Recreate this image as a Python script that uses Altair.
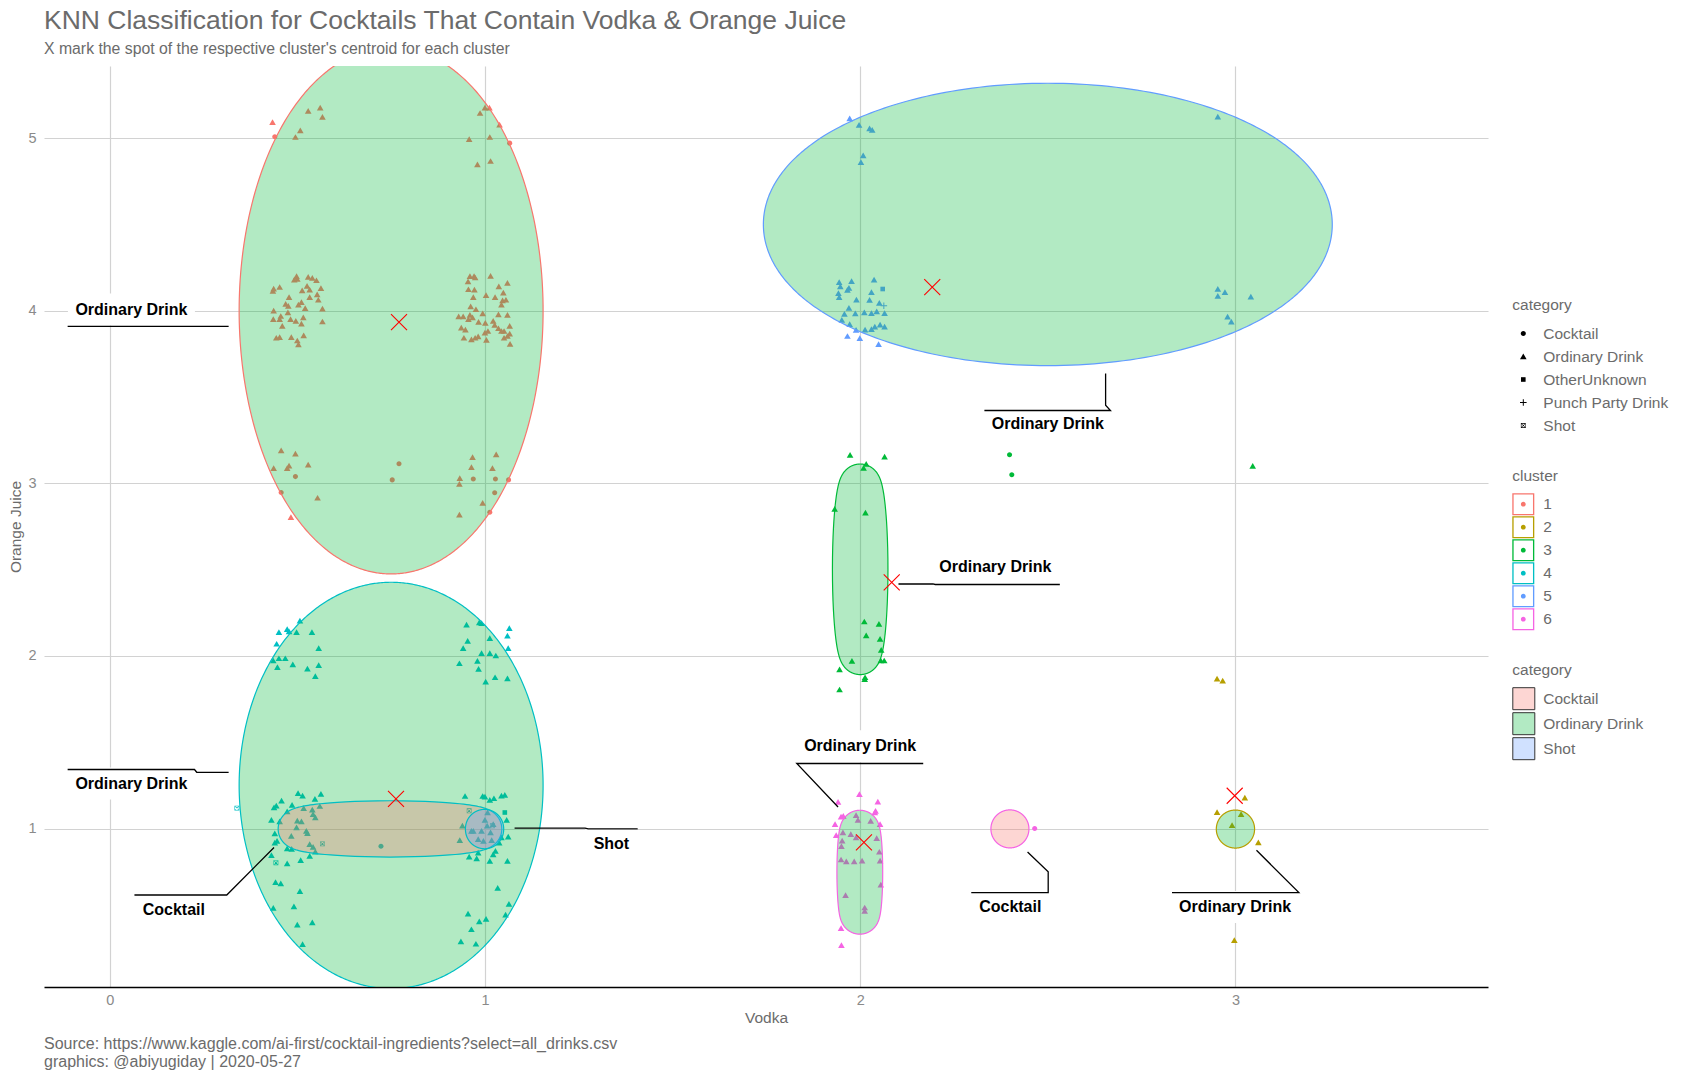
import altair as alt
import pandas as pd
import numpy as np

FONT = "Liberation Sans"
TEXT_GRAY = "#6B6B6B"
TICK_GRAY = "#8A8A8A"

TITLE = "KNN Classification for Cocktails That Contain Vodka & Orange Juice"
SUBTITLE = "X mark the spot of the respective cluster's centroid for each cluster"
CAPTION = ("Source: https://www.kaggle.com/ai-first/cocktail-ingredients?select=all_drinks.csv\n"
           "graphics: @abiyugiday | 2020-05-27")

X_DOMAIN = [-0.175, 3.673]
Y_DOMAIN = [0.082, 5.418]
W, H = 1444, 921
PXX = W / (X_DOMAIN[1] - X_DOMAIN[0])
PXY = H / (Y_DOMAIN[1] - Y_DOMAIN[0])

CLUSTERS = ["1", "2", "3", "4", "5", "6"]
CLUSTER_COLORS = ["#F8766D", "#B79F00", "#00BA38", "#00BFC4", "#619CFF", "#F564E3"]
CATEGORIES = ["Cocktail", "Ordinary Drink", "OtherUnknown", "Punch Party Drink", "Shot"]
FILL_CATEGORIES = ["Cocktail", "Ordinary Drink", "Shot"]
FILL_COLORS = ["#F8766D", "#00BA38", "#619CFF"]
FILL_ALPHA = 0.3
CODE = {"C": "Cocktail", "O": "Ordinary Drink", "U": "OtherUnknown",
        "P": "Punch Party Drink", "S": "Shot"}

# ---- jittered points: (vodka, orange juice, category code) ----
cluster1_points = [
    (0.434, 5.092, "O"), (0.440, 5.008, "C"), (0.529, 5.157, "O"), (0.561, 5.176, "O"),
    (0.567, 5.122, "O"), (0.508, 5.045, "O"), (0.495, 5.006, "O"), (1.000, 5.176, "O"),
    (1.012, 5.176, "O"), (0.987, 5.145, "O"), (1.039, 5.078, "O"), (1.066, 4.971, "C"),
    (0.958, 4.994, "O"), (1.013, 5.006, "O"), (0.980, 4.847, "O"), (1.015, 4.867, "O"),
    (0.435, 4.114, "O"), (0.437, 4.127, "O"), (0.453, 4.137, "O"), (0.478, 4.078, "O"),
    (0.492, 4.180, "O"), (0.498, 4.200, "O"), (0.500, 4.184, "O"), (0.529, 4.196, "O"),
    (0.540, 4.190, "O"), (0.551, 4.176, "O"), (0.526, 4.143, "O"), (0.513, 4.118, "O"),
    (0.533, 4.122, "O"), (0.563, 4.131, "O"), (0.553, 4.094, "O"), (0.556, 4.063, "O"),
    (0.533, 4.078, "O"), (0.511, 4.049, "O"), (0.503, 4.035, "O"), (0.521, 4.014, "O"),
    (0.567, 4.012, "O"), (0.469, 4.039, "O"), (0.475, 3.990, "O"), (0.456, 3.969, "O"),
    (0.437, 4.000, "O"), (0.436, 3.951, "O"), (0.453, 3.951, "O"), (0.482, 3.951, "O"),
    (0.496, 3.941, "O"), (0.511, 3.925, "O"), (0.516, 3.961, "O"), (0.460, 3.912, "O"),
    (0.567, 3.937, "O"), (0.444, 3.843, "O"), (0.453, 3.847, "O"), (0.484, 3.847, "O"),
    (0.500, 3.827, "O"), (0.517, 3.857, "O"), (0.503, 3.804, "O"), (0.476, 4.027, "O"),
    (0.960, 4.200, "O"), (0.971, 4.200, "O"), (0.974, 4.192, "O"), (1.015, 4.202, "O"),
    (0.955, 4.169, "O"), (0.972, 4.122, "O"), (0.956, 4.124, "O"), (1.003, 4.090, "O"),
    (1.027, 4.078, "O"), (1.037, 4.141, "O"), (1.060, 4.161, "O"), (1.049, 4.104, "O"),
    (1.047, 4.059, "O"), (1.056, 4.063, "O"), (1.044, 4.035, "O"), (0.969, 4.078, "O"),
    (0.962, 4.025, "O"), (0.976, 4.008, "O"), (0.994, 3.984, "O"), (0.930, 3.967, "O"),
    (0.942, 3.967, "O"), (0.960, 3.975, "O"), (0.967, 3.961, "O"), (0.956, 3.951, "O"),
    (0.983, 3.935, "O"), (1.001, 3.929, "O"), (1.036, 3.978, "O"), (1.060, 3.976, "O"),
    (1.026, 3.918, "O"), (1.036, 3.898, "O"), (1.066, 3.912, "O"), (1.051, 3.882, "O"),
    (1.066, 3.867, "O"), (1.044, 3.882, "O"), (0.937, 3.902, "O"), (0.948, 3.890, "O"),
    (1.008, 3.882, "O"), (1.000, 3.873, "O"), (0.944, 3.843, "O"), (0.964, 3.833, "O"),
    (0.974, 3.843, "O"), (1.004, 3.831, "O"), (1.051, 3.843, "O"), (1.067, 3.808, "O"),
    (1.060, 3.853, "O"), (1.022, 3.941, "O"), (0.982, 3.851, "O"),
    (0.457, 3.190, "O"), (0.495, 3.171, "O"), (0.437, 3.088, "O"), (0.473, 3.088, "O"),
    (0.478, 3.102, "O"), (0.529, 3.108, "O"), (0.495, 3.039, "C"), (0.457, 2.947, "C"),
    (0.554, 2.916, "O"), (0.483, 2.804, "O"), (0.771, 3.114, "C"), (0.753, 3.020, "C"),
    (0.967, 3.151, "O"), (1.030, 3.167, "O"), (0.964, 3.094, "O"), (1.020, 3.088, "O"),
    (0.933, 3.029, "O"), (0.969, 3.025, "C"), (1.028, 3.025, "C"), (1.063, 3.020, "C"),
    (0.932, 2.996, "O"), (1.026, 2.945, "C"), (0.994, 2.886, "O"), (1.013, 2.833, "C"),
    (0.932, 2.818, "O"),
]

cluster2_points = [
    (3.025, 1.178, "O"), (2.951, 1.095, "O"), (3.015, 1.083, "O"), (2.991, 1.019, "O"),
    (3.061, 0.919, "O"), (2.997, 0.353, "O"), (2.951, 1.868, "O"), (2.966, 1.857, "O"),
]

cluster3_points = [
    (1.973, 3.164, "O"), (2.065, 3.154, "O"), (2.016, 3.112, "O"), (2.009, 3.089, "O"),
    (1.932, 2.851, "O"), (2.014, 2.830, "O"), (2.011, 2.199, "O"), (2.050, 2.185, "O"),
    (2.016, 2.118, "O"), (2.053, 2.098, "O"), (2.056, 2.035, "O"), (1.978, 1.971, "O"),
    (2.055, 1.973, "O"), (2.064, 1.973, "O"), (1.945, 1.921, "O"), (2.013, 1.876, "O"),
    (2.012, 1.865, "O"), (1.945, 1.805, "O"), (2.398, 3.166, "C"), (2.404, 3.050, "C"),
    (3.046, 3.100, "O"),
]

cluster4_points = [
    (0.451, 2.138, "O"), (0.473, 2.155, "O"), (0.478, 2.142, "O"), (0.498, 2.138, "O"),
    (0.507, 2.204, "O"), (0.539, 2.138, "O"), (0.445, 2.070, "O"), (0.557, 2.045, "O"),
    (0.436, 1.973, "O"), (0.451, 1.986, "O"), (0.468, 1.986, "O"), (0.488, 1.951, "O"),
    (0.447, 1.934, "O"), (0.527, 1.926, "O"), (0.557, 1.946, "O"), (0.548, 1.883, "O"),
    (0.951, 2.181, "O"), (0.985, 2.194, "O"), (0.991, 2.190, "O"), (1.065, 2.161, "O"),
    (1.060, 2.117, "O"), (0.954, 2.087, "O"), (1.013, 2.103, "O"), (0.942, 2.045, "O"),
    (1.062, 2.045, "O"), (0.932, 1.957, "O"), (0.980, 1.971, "O"), (0.991, 2.016, "O"),
    (1.013, 2.016, "O"), (1.029, 2.002, "O"), (0.983, 1.924, "O"), (1.002, 1.850, "O"),
    (1.027, 1.876, "O"), (1.060, 1.870, "O"),
    (0.444, 1.132, "O"), (0.458, 1.161, "O"), (0.438, 1.122, "O"), (0.473, 1.099, "O"),
    (0.486, 1.136, "O"), (0.502, 1.204, "O"), (0.514, 1.190, "O"), (0.547, 1.171, "O"),
    (0.563, 1.200, "O"), (0.540, 1.109, "O"), (0.542, 1.083, "O"), (0.560, 1.130, "O"),
    (0.548, 1.064, "O"), (0.431, 1.049, "O"), (0.453, 1.041, "O"), (0.500, 1.045, "O"),
    (0.511, 1.041, "O"), (0.498, 1.006, "O"), (0.524, 0.986, "O"), (0.527, 0.973, "O"),
    (0.440, 0.971, "O"), (0.484, 0.957, "O"), (0.446, 0.928, "O"), (0.440, 0.918, "O"),
    (0.473, 0.885, "O"), (0.485, 0.882, "O"), (0.533, 0.909, "O"), (0.542, 0.893, "O"),
    (0.548, 0.866, "O"), (0.431, 0.845, "O"), (0.473, 0.798, "O"), (0.509, 0.817, "O"),
    (0.533, 0.841, "O"), (0.442, 0.689, "O"), (0.456, 0.682, "O"), (0.507, 0.637, "O"),
    (0.436, 0.540, "O"), (0.491, 0.548, "O"), (0.500, 0.443, "O"), (0.540, 0.456, "O"),
    (0.514, 0.330, "O"), (0.517, 1.118, "O"),
    (0.339, 1.118, "S"), (0.443, 0.802, "S"), (0.567, 0.911, "S"), (0.723, 0.897, "C"),
    (0.947, 1.188, "O"), (0.994, 1.188, "O"), (1.000, 1.184, "O"), (1.013, 1.165, "O"),
    (1.024, 1.175, "O"), (1.044, 1.190, "O"), (1.053, 1.194, "O"), (1.053, 1.093, "U"),
    (1.058, 1.049, "O"), (1.062, 0.953, "O"), (1.044, 0.948, "O"), (1.028, 0.870, "O"),
    (1.022, 0.850, "O"), (1.013, 0.812, "O"), (1.060, 0.812, "O"), (0.958, 0.837, "O"),
    (0.978, 0.827, "O"), (0.996, 0.928, "O"), (1.018, 0.932, "O"), (0.982, 0.938, "O"),
    (1.000, 1.049, "O"), (1.006, 1.016, "O"), (0.969, 0.986, "O"), (0.933, 0.932, "O"),
    (0.940, 1.016, "O"), (0.958, 1.103, "S"), (0.964, 0.986, "O"), (0.991, 0.986, "O"),
    (1.015, 0.977, "O"), (0.982, 0.860, "O"), (1.034, 0.656, "O"), (1.064, 0.563, "O"),
    (1.055, 0.501, "O"), (0.955, 0.507, "O"), (0.985, 0.462, "O"), (1.003, 0.476, "O"),
    (0.964, 0.416, "O"), (0.936, 0.346, "O"), (0.976, 0.332, "O"), (1.007, 1.093, "O"),
    (1.022, 1.025, "O"), (1.038, 0.918, "O"), (1.020, 1.016, "S"),
]

cluster5_points = [
    (1.972, 5.114, "O"), (1.997, 5.076, "O"), (2.025, 5.056, "O"), (2.032, 5.047, "O"),
    (2.008, 4.899, "O"), (2.002, 4.860, "O"), (2.953, 5.124, "O"),
    (1.944, 4.165, "O"), (1.947, 4.140, "O"), (1.942, 4.101, "O"), (1.944, 4.078, "O"),
    (1.977, 4.171, "O"), (1.970, 4.132, "O"), (1.966, 4.120, "O"), (2.037, 4.180, "O"),
    (2.030, 4.107, "O"), (2.025, 4.062, "O"), (1.990, 4.064, "O"), (2.051, 4.045, "O"),
    (2.065, 3.986, "O"), (2.044, 3.996, "O"), (2.030, 3.986, "O"), (2.011, 3.990, "O"),
    (1.987, 3.984, "O"), (1.958, 3.981, "O"), (1.970, 4.016, "O"), (1.951, 3.946, "O"),
    (1.972, 3.922, "O"), (1.989, 3.888, "O"), (2.013, 3.890, "O"), (2.030, 3.893, "O"),
    (2.039, 3.907, "O"), (2.053, 3.919, "O"), (2.065, 3.907, "O"), (1.966, 3.853, "O"),
    (1.999, 3.841, "O"), (2.049, 3.806, "O"), (2.060, 4.126, "U"), (2.063, 4.029, "P"),
    (2.953, 4.126, "O"), (2.972, 4.107, "O"), (2.953, 4.085, "O"), (3.041, 4.081, "O"),
    (2.979, 3.965, "O"), (2.989, 3.936, "O"),
]

cluster6_points = [
    (1.998, 1.199, "O"), (1.941, 1.154, "O"), (2.047, 1.156, "O"), (2.041, 1.102, "O"),
    (2.039, 1.093, "O"), (1.949, 1.069, "O"), (1.955, 1.073, "O"), (1.989, 1.077, "O"),
    (1.933, 1.025, "O"), (2.053, 1.025, "O"), (1.994, 1.050, "O"), (1.936, 0.961, "O"),
    (1.954, 0.977, "O"), (1.975, 0.967, "O"), (1.989, 0.948, "O"), (2.044, 0.944, "O"),
    (1.952, 0.929, "O"), (1.950, 0.898, "O"), (1.949, 0.820, "O"), (1.963, 0.809, "O"),
    (1.984, 0.809, "O"), (2.005, 0.813, "O"), (2.028, 1.044, "O"), (2.051, 0.865, "O"),
    (2.053, 0.813, "O"), (2.055, 0.674, "O"), (1.961, 0.614, "O"), (2.012, 0.542, "O"),
    (2.012, 0.523, "O"), (1.949, 0.423, "O"), (1.950, 0.324, "O"), (2.465, 1.000, "C"),
]

# ---- cluster marks (ellipses): outer extents ----
ell_cluster = ["1", "4", "4", "4", "5", "3", "6", "6", "2"]
ell_category = ["Ordinary Drink", "Ordinary Drink", "Cocktail", "Shot", "Ordinary Drink",
                "Ordinary Drink", "Ordinary Drink", "Cocktail", "Ordinary Drink"]
ell_cx = [0.750, 0.750, 0.747, 0.999, 2.500, 2.000, 1.999, 2.399, 3.000]
ell_cy = [4.000, 1.250, 0.998, 0.997, 4.500, 2.502, 0.747, 0.998, 0.997]
ell_rx = [0.405, 0.405, 0.298, 0.051, 0.758, 0.074, 0.061, 0.0505, 0.051]
ell_ry = [1.525, 1.177, 0.163, 0.114, 0.818, 0.610, 0.359, 0.108, 0.109]
EXPAND_PX = 19

# ---- centroids ----
cen_cluster = ["1", "2", "3", "4", "5", "6"]
cen_x = [0.771, 2.998, 2.084, 0.763, 2.192, 2.010]
cen_y = [3.934, 1.190, 2.426, 1.172, 4.137, 0.920]

# ---- annotations ----
ann_label = ["Ordinary Drink", "Ordinary Drink", "Cocktail", "Shot", "Ordinary Drink",
             "Ordinary Drink", "Ordinary Drink", "Cocktail", "Ordinary Drink"]
ann_x = [0.058, 0.058, 0.171, 1.337, 2.500, 2.360, 2.000, 2.400, 2.999]
ann_y = [4.007, 1.261, 0.531, 0.913, 3.343, 2.516, 1.477, 0.546, 0.546]
ann_path = [
    [(-0.112, 3.910), (0.317, 3.910)],
    [(-0.112, 1.342), (0.226, 1.342), (0.232, 1.326), (0.317, 1.326)],
    [(0.066, 0.615), (0.312, 0.615), (0.438, 0.890)],
    [(1.079, 1.003), (1.267, 1.003), (1.275, 0.998), (1.407, 0.998)],
    [(2.654, 3.636), (2.654, 3.453), (2.667, 3.422), (2.331, 3.422)],
    [(2.102, 2.417), (2.194, 2.417), (2.200, 2.414), (2.532, 2.414)],
    [(1.941, 1.125), (1.831, 1.377), (2.168, 1.377)],
    [(2.446, 0.864), (2.501, 0.749), (2.501, 0.629), (2.296, 0.629)],
    [(3.056, 0.874), (3.169, 0.629), (2.831, 0.629)],
]
LABEL_W = {"Ordinary Drink": 111, "Cocktail": 62, "Shot": 36}

# ---------------- build tables ----------------
rows = []
for cl, pts in [("1", cluster1_points), ("2", cluster2_points), ("3", cluster3_points),
                ("4", cluster4_points), ("5", cluster5_points), ("6", cluster6_points)]:
    for x, y, c in pts:
        rows.append({"x": x, "y": y, "category": CODE[c], "cluster": cl})
points_df = pd.DataFrame(rows)

erows = []
for i in range(len(ell_cx)):
    a = max(ell_rx[i] * PXX - EXPAND_PX, 0.01)
    b = max(ell_ry[i] * PXY - EXPAND_PX, 0.01)
    phi = np.linspace(0, np.pi, 241)
    s = np.sqrt((a * np.cos(phi)) ** 2 + (b * np.sin(phi)) ** 2)
    px = a * a * np.cos(phi) / s + EXPAND_PX * np.cos(phi)
    py = b * b * np.sin(phi) / s + EXPAND_PX * np.sin(phi)
    for u, v in zip(px, py):
        erows.append({"x": ell_cx[i] + u / PXX, "ytop": ell_cy[i] + v / PXY,
                      "ybot": ell_cy[i] - v / PXY, "eid": i,
                      "cluster": ell_cluster[i], "category": ell_category[i]})
ell_df = pd.DataFrame(erows)

cen_df = pd.DataFrame({"x": cen_x, "y": cen_y, "cluster": cen_cluster})

lrows = []
for i, path in enumerate(ann_path):
    for j, (x, y) in enumerate(path):
        lrows.append({"x": x, "y": y, "aid": i, "seq": j})
line_df = pd.DataFrame(lrows)

lab_df = pd.DataFrame({"x": ann_x, "y": ann_y, "label": ann_label})
hw = lab_df["label"].map(LABEL_W) / 2 + 8
lab_df["x0"] = lab_df["x"] - hw / PXX
lab_df["x1"] = lab_df["x"] + hw / PXX
lab_df["y0"] = lab_df["y"] - 16 / PXY
lab_df["y1"] = lab_df["y"] + 16 / PXY


def blend_on_white(hex_color, alpha):
    r, g, b = (int(hex_color[k:k + 2], 16) for k in (1, 3, 5))
    mix = [round(255 * (1 - alpha) + c * alpha) for c in (r, g, b)]
    return "#{:02X}{:02X}{:02X}".format(*mix)


FILL_KEY_COLORS = [blend_on_white(c, FILL_ALPHA) for c in FILL_COLORS]

# ---------------- scales / axes ----------------
XS = alt.Scale(domain=X_DOMAIN, nice=False, zero=False)
YS = alt.Scale(domain=Y_DOMAIN, nice=False, zero=False)
XA = alt.Axis(values=[0, 1, 2, 3], format="d", title="Vodka", grid=True,
              gridColor="#D2D2D2", gridWidth=1.2, domain=True, domainColor="#000000",
              domainWidth=1.5, ticks=False, tickSize=0, labelPadding=6,
              labelFont=FONT, labelFontSize=14.5, labelColor=TICK_GRAY,
              titleFont=FONT, titleFontSize=15.5, titleFontWeight="normal",
              titleColor=TEXT_GRAY, titlePadding=4)
YA = alt.Axis(values=[1, 2, 3, 4, 5], format="d", title="Orange Juice", grid=True,
              gridColor="#D2D2D2", gridWidth=1.2, domain=False, ticks=False, tickSize=0,
              labelPadding=8, labelFont=FONT, labelFontSize=14.5, labelColor=TICK_GRAY,
              titleFont=FONT, titleFontSize=15.5, titleFontWeight="normal",
              titleColor=TEXT_GRAY, titlePadding=4.5)


def X(field):
    return alt.X(field, type="quantitative", scale=XS, axis=XA)


def Y(field):
    return alt.Y(field, type="quantitative", scale=YS, axis=YA)


SHAPE_PATHS = [
    "M-0.23,0A0.23,0.23 0 1,0 0.23,0A0.23,0.23 0 1,0 -0.23,0Z",
    "M0,-0.27L0.3,0.25L-0.3,0.25Z",
    "M-0.21,-0.21H0.21V0.21H-0.21Z",
    "M-0.3,-0.045H-0.045V-0.3H0.045V-0.045H0.3V0.045H0.045V0.3H-0.045V0.045H-0.3Z",
    "M-0.22,-0.22H0.22V0.22H-0.22Z M-0.17,-0.17V0.17H0.17V-0.17Z "
    "M-0.17,-0.13L0.13,0.17L0.17,0.13L-0.13,-0.17Z M0.13,-0.17L0.17,-0.13L-0.13,0.17L-0.17,0.13Z",
]
RING_DOT = ("M-1,-1H1V1H-1Z M-0.88,-0.88V0.88H0.88V-0.88Z "
            "M-0.22,0A0.22,0.22 0 1,0 0.22,0A0.22,0.22 0 1,0 -0.22,0Z")
X_PATH = "M-1,-1L1,1M-1,1L1,-1"

LEG_X = 1468.3


def legend(**kw):
    base = dict(orient="none", direction="vertical", padding=0, titleFont=FONT,
                titleFontSize=15.5, titleFontWeight="normal", titleColor=TEXT_GRAY,
                labelFont=FONT, labelFontSize=15.5, labelColor=TEXT_GRAY,
                titlePadding=9, rowPadding=1, labelOffset=9, symbolSize=484,
                legendX=LEG_X)
    base.update(kw)
    return alt.Legend(**base)


points = alt.Chart(points_df).mark_point(filled=True, size=484, opacity=1, strokeWidth=0).encode(
    x=X("x"), y=Y("y"),
    color=alt.Color("cluster:N", scale=alt.Scale(domain=CLUSTERS, range=CLUSTER_COLORS),
                    legend=legend(title="cluster", legendY=402.7, symbolType=RING_DOT,
                                  symbolStrokeWidth=0)),
    shape=alt.Shape("category:N", scale=alt.Scale(domain=CATEGORIES, range=SHAPE_PATHS),
                    legend=legend(title="category", legendY=232, symbolFillColor="black",
                                  symbolStrokeWidth=0, rowPadding=3)),
)

ellipses = alt.Chart(ell_df).mark_area(fillOpacity=FILL_ALPHA, strokeWidth=1.2, clip=True).encode(
    x=X("x"), y=Y("ytop"), y2="ybot:Q",
    fill=alt.Fill("category:N", scale=alt.Scale(domain=FILL_CATEGORIES, range=FILL_COLORS),
                  legend=None),
    stroke=alt.Stroke("cluster:N", scale=alt.Scale(domain=CLUSTERS, range=CLUSTER_COLORS),
                      legend=None),
    detail="eid:N",
)

# legend key for the ellipse fills (no marks: empty table)
fill_key = alt.Chart(pd.DataFrame({"x": pd.Series([], dtype=float),
                                   "y": pd.Series([], dtype=float),
                                   "category": pd.Series([], dtype=str)})).mark_point(
    shape="square", filled=True, size=484, opacity=1).encode(
    x=X("x"), y=Y("y"),
    fill=alt.Fill("category:N", scale=alt.Scale(domain=FILL_CATEGORIES, range=FILL_KEY_COLORS),
                  legend=legend(title="category", legendY=596.7, symbolType="square",
                                symbolStrokeColor="#333333", symbolStrokeWidth=1,
                                rowPadding=-3, labelOffset=8)),
)

boxes = alt.Chart(lab_df).mark_rect(color="white").encode(
    x=X("x0"), x2="x1:Q", y=Y("y0"), y2="y1:Q")

lines = alt.Chart(line_df).mark_line(color="black", strokeWidth=1.3).encode(
    x=X("x"), y=Y("y"), detail="aid:N", order="seq:Q")

labels = alt.Chart(lab_df).mark_text(font=FONT, fontWeight="bold", fontSize=16,
                                     color="black", baseline="middle", align="center").encode(
    x=X("x"), y=Y("y"), text="label:N")

centroids = alt.Chart(cen_df).mark_point(shape=X_PATH, size=256, filled=False,
                                         stroke="#FF0000", strokeWidth=1.1, opacity=1).encode(
    x=X("x"), y=Y("y"))

caption = alt.Chart(pd.DataFrame({"t": [CAPTION]})).mark_text(
    align="left", baseline="top", lineBreak="\n", lineHeight=17.5, fontSize=16,
    font=FONT, color=TEXT_GRAY).encode(x=alt.value(0), y=alt.value(970), text="t:N")

chart = alt.layer(points, ellipses, fill_key, boxes, lines, labels, centroids, caption).resolve_scale(
    fill="independent"
).properties(
    width=W, height=H,
    autosize=alt.AutoSizeParams(type="none"),
    padding={"left": 36, "top": 58, "right": 192, "bottom": 84},
    title=alt.TitleParams(text=TITLE, subtitle=SUBTITLE, anchor="start", frame="group",
                          font=FONT, fontSize=26.5, fontWeight="normal", color=TEXT_GRAY,
                          subtitleFont=FONT, subtitleFontSize=15.8, subtitleColor=TEXT_GRAY,
                          subtitlePadding=8, offset=9),
).configure(font=FONT, view=alt.ViewConfig(stroke=None))

chart.save("out.html", embed_options={"renderer": "svg", "actions": False})
